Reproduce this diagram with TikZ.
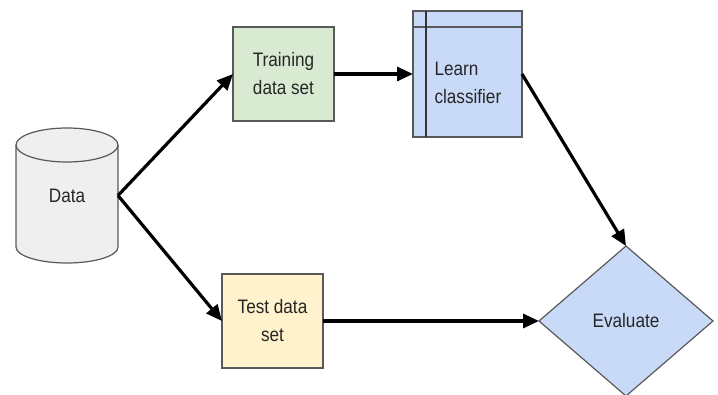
\documentclass[tikz,border=0pt]{standalone}
\usepackage{fontspec}
\setmainfont{Liberation Sans}[FakeStretch=0.88]
\usetikzlibrary{shapes.geometric}
\usetikzlibrary{arrows.meta}
\usetikzlibrary{backgrounds}
\definecolor{edgegray}{HTML}{595959}
\definecolor{datagray}{HTML}{EFEFEF}
\definecolor{traingreen}{HTML}{D9EAD3}
\definecolor{learnblue}{HTML}{C9DAF8}
\definecolor{testyellow}{HTML}{FFF2CC}

\begin{document}
\begin{tikzpicture}[x=1pt,y=1pt,
    font=\fontsize{19.5}{28}\selectfont, text=black!85,
    box/.style={draw=edgegray, line width=1.2pt, inner sep=0pt, outer sep=0pt,
      minimum width=101pt, minimum height=94pt, align=center},
    flow/.style={line width=3.2pt, -{Triangle[length=16pt,width=14pt]}},
  ]
  \useasboundingbox (0,0) rectangle (718,394);

  % data store
  \node[minimum width=102pt, minimum height=135pt, outer sep=0pt] (data) at (67,198.5) {Data};
  \begin{scope}[on background layer]
    \draw[draw=edgegray, line width=1.2pt, fill=datagray]
      ([yshift=-17pt]data.north west) -- ([yshift=16pt]data.south west)
      arc[start angle=180, end angle=360, x radius=51pt, y radius=16pt]
      -- ([yshift=-17pt]data.north east)
      arc[start angle=0, end angle=180, x radius=51pt, y radius=17pt] -- cycle;
    \draw[draw=edgegray, line width=1.2pt] ([yshift=-17pt]data.north west)
      arc[start angle=180, end angle=360, x radius=51pt, y radius=17pt];
  \end{scope}

  \node[box, fill=traingreen] (train) at (283.5,320) {Training\\data set};
  \node[box, fill=testyellow] (test) at (272.5,73) {Test data\\set};

  % classifier box with header strip
  \node[box, fill=learnblue, minimum width=109pt, minimum height=126pt] (learn) at (467.5,320) {};
  \draw[draw=edgegray, line width=1.2pt] ([yshift=-16pt]learn.north west) -- ([yshift=-16pt]learn.north east);
  \draw[draw=black!80, line width=1.2pt] ([xshift=13pt]learn.north west) -- ([xshift=13pt]learn.south west);
  \node[align=left, text width=66pt, inner sep=0pt] (learntext) at ([yshift=-9pt]learn.center) {Learn\\classifier};

  \node[diamond, draw=edgegray, line width=1.2pt, fill=learnblue, inner sep=0pt, outer sep=0pt,
    minimum width=174pt, minimum height=150pt] (eval) at (626,73) {Evaluate};

  \draw[flow] (data.east) -- (train.west);
  \draw[flow] (data.east) -- (test.west);
  \draw[flow] (train.east) -- (learn.west);
  \draw[flow] (learn.east) -- (eval.north);
  \draw[flow] (test.east) -- (eval.west);
\end{tikzpicture}
\end{document}
